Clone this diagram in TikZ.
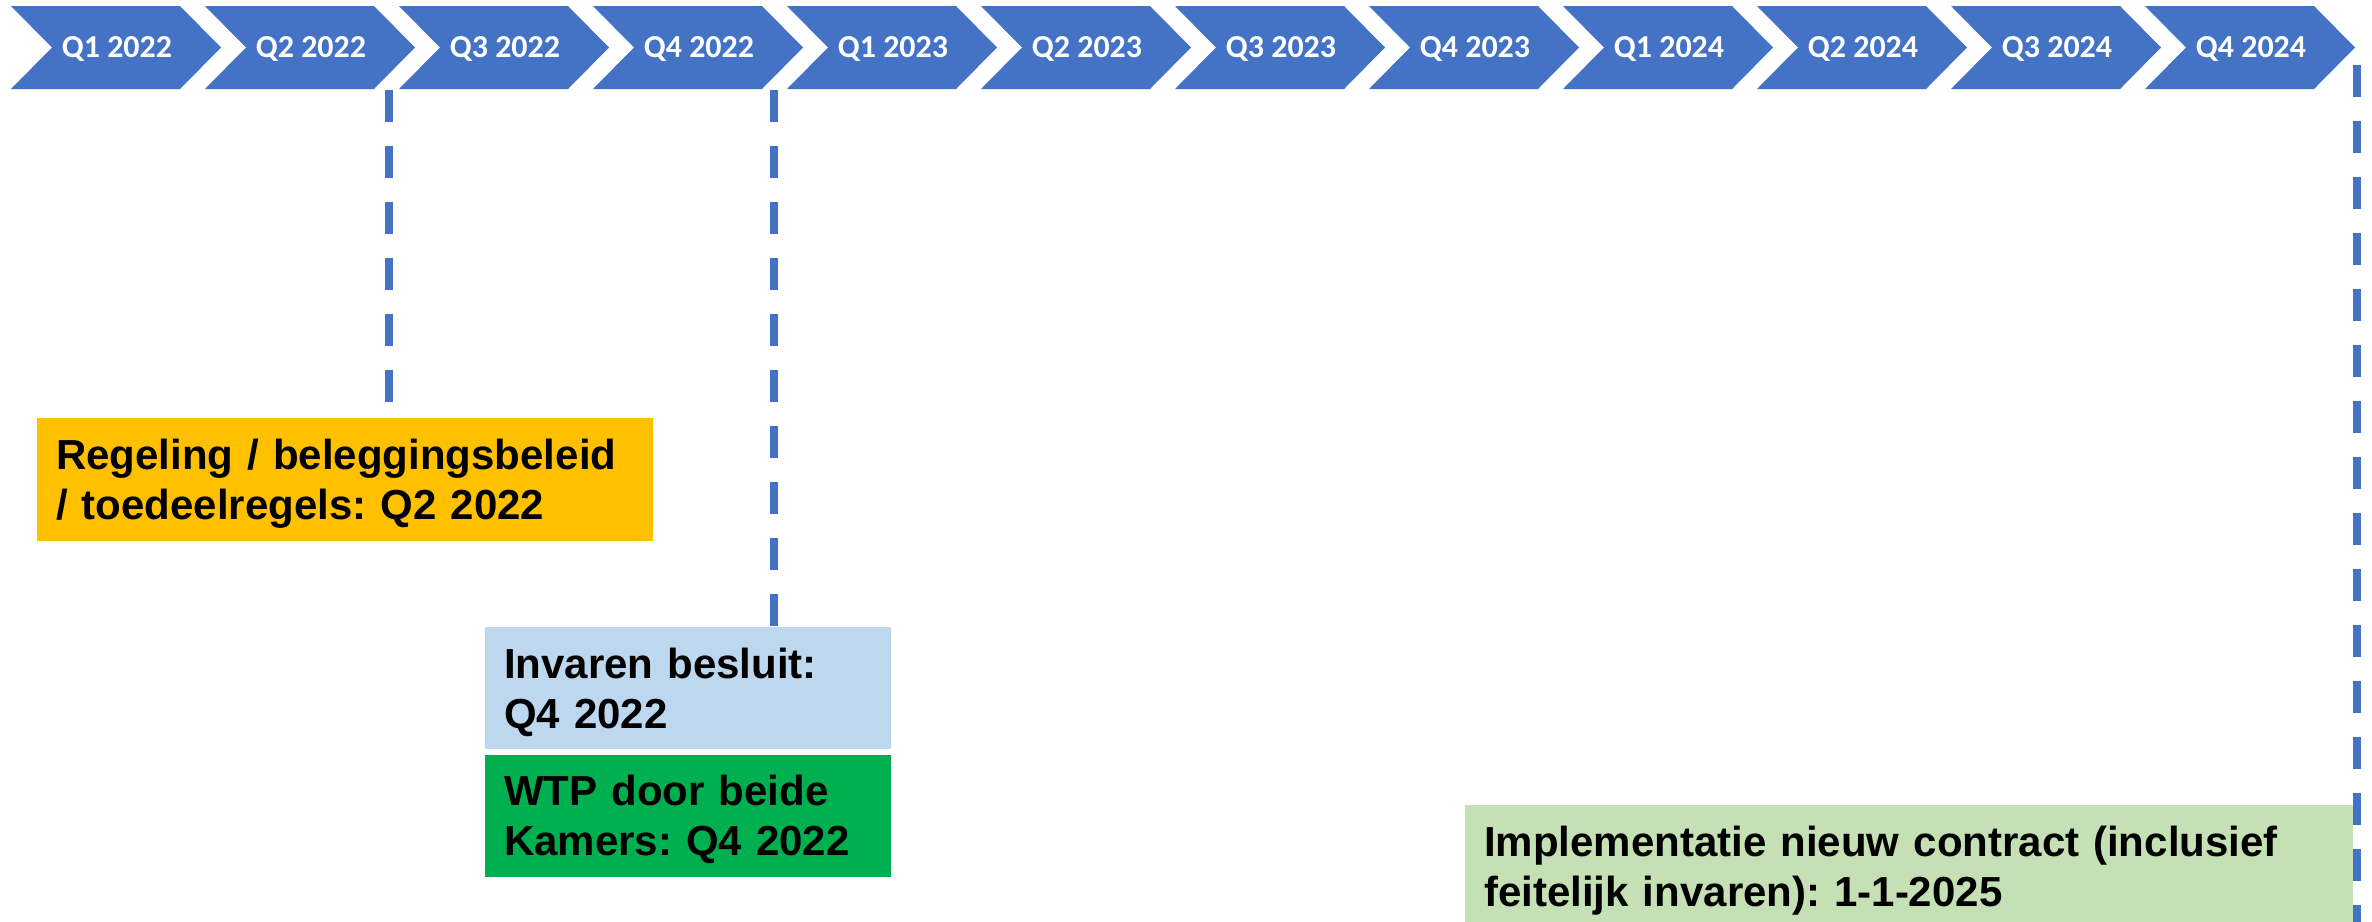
\documentclass[tikz,border=0pt]{standalone}
\usepackage{fontspec}
\setmainfont{Liberation Sans}
\newfontfamily\kwartaalfont{Carlito}
\usetikzlibrary{positioning, calc}
\definecolor{chevblauw}{HTML}{4472C4}
\definecolor{oranje}{HTML}{FFC000}
\definecolor{lichtblauw}{HTML}{BDD7EE}
\definecolor{groen}{HTML}{00B050}
\definecolor{lichtgroen}{HTML}{C5E0B4}
\frenchspacing

\begin{document}
\begin{tikzpicture}[x=0.3mm, y=-0.3mm,
    kwartaal/.style={fill=chevblauw, draw=none},
    qtekst/.style={text=white, anchor=base, inner sep=0pt,
                   font=\kwartaalfont\bfseries\fontsize{27.3pt}{30pt}\selectfont},
    mijlpaal/.style={fill=#1, anchor=north west, align=left, inner xsep=5.7mm, inner ysep=0pt,
                     text height=25.7pt, text depth=42.7pt,
                     font=\bfseries\fontsize{35.85pt}{42.7pt}\selectfont},
    stippel/.style={draw=chevblauw, line width=2.4mm, dash pattern=on 9.6mm off 7.2mm},
]

% Page size
\useasboundingbox (0,0) rectangle (2372,921);
\fill[white] (0,0) rectangle (2372,921);

% Quarter chevrons
\foreach \tekst [count=\i from 0] in {Q1 2022, Q2 2022, Q3 2022, Q4 2022,
                                      Q1 2023, Q2 2023, Q3 2023, Q4 2023,
                                      Q1 2024, Q2 2024, Q3 2024, Q4 2024} {
    \pgfmathsetmacro\xo{11+194*\i}
    \fill[kwartaal] (\xo,6) -- ++(169,0) -- ++(41,41.5) -- ++(-41,41.5)
        -- ++(-169,0) -- ++(41,-41.5) -- cycle;
    \node[qtekst] (q\i) at (\xo+106,57.5) {\tekst};
}

% Milestone boxes
\node[mijlpaal=oranje, text width=173.4mm, minimum height=36.9mm]
    (regeling) at (37,418) {Regeling / beleggingsbeleid\\/ toedeelregels: Q2 2022};

\node[mijlpaal=lichtblauw, text width=110.4mm, minimum height=36.6mm]
    (invaren) at (485,627) {Invaren besluit:\\Q4 2022};
\node[mijlpaal=groen, text width=110.4mm, minimum height=36.6mm,
      below=1.5mm of invaren.south west, anchor=north west]
    (wtp) {WTP door beide\\Kamers: Q4 2022};

\node[mijlpaal=lichtgroen, text width=255mm, minimum height=36.9mm]
    (implementatie) at (1465,805) {Implementatie nieuw contract (inclusief\\feitelijk invaren): 1-1-2025};

% Dashed markers
\coordinate (grens2) at (389,90);
\coordinate (grens4) at (774,90);
\coordinate (eind) at (2357,65);
\draw[stippel] (grens2) -- (grens2 |- regeling.north);
\draw[stippel] (grens4) -- (grens4 |- invaren.north);
\draw[stippel] (eind) -- (eind |- implementatie.south);

\end{tikzpicture}
\end{document}
